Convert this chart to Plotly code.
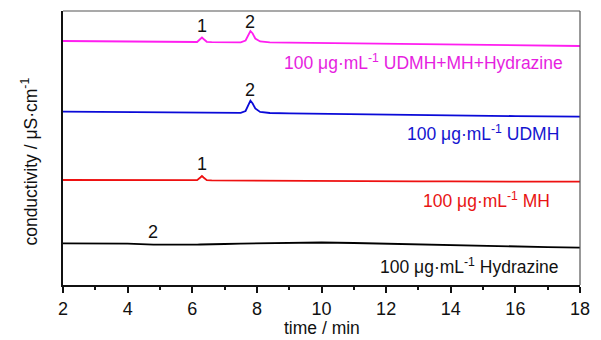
import plotly.graph_objects as go

# time axis (min)
time_min = [2, 3, 4, 4.8, 5, 6, 6.15, 6.25, 6.3, 6.35, 6.45, 6.6, 7, 7.5, 7.65, 7.75, 7.8,
            7.87, 7.95, 8.1, 8.4, 9, 10, 11, 12, 13, 14, 15, 16, 17, 18]

# signals (arbitrary offset units)
mix_sig = [244, 243.8, 243.6, 243.4, 243.3, 243.1, 243.0, 246.0, 247.5, 246.0, 243.2, 242.9,
           242.8, 242.7, 244.5, 251.5, 254.0, 251.5, 246.5, 243.6, 242.7, 242.4, 242.0, 241.5,
           241.0, 240.6, 240.2, 239.9, 239.6, 239.3, 239.0]
udmh_sig = [173.3, 173.2, 173.0, 172.9, 172.8, 172.6, 172.5, 172.5, 172.5, 172.5, 172.4, 172.4,
            172.3, 172.2, 174.0, 181.5, 184.3, 181.5, 176.5, 173.0, 172.0, 171.7, 171.2, 170.7,
            170.2, 169.8, 169.5, 169.2, 168.9, 168.6, 168.3]
mh_sig = [105.0, 105.0, 104.9, 104.9, 104.9, 104.8, 104.8, 107.5, 109.0, 107.5, 104.9, 104.6,
          104.5, 104.5, 104.5, 104.4, 104.4, 104.4, 104.4, 104.3, 104.2, 104.1, 104.0, 103.9,
          103.8, 103.7, 103.6, 103.5, 103.5, 103.4, 103.3]
hyd_sig = [41.7, 41.7, 41.3, 40.4, 40.3, 40.4, 40.4, 40.5, 40.5, 40.5, 40.6, 40.7, 41.0, 41.4,
           41.5, 41.6, 41.7, 41.7, 41.8, 41.9, 42.1, 42.4, 42.5, 42.0, 41.2, 40.4, 39.7, 39.0,
           38.4, 37.9, 37.4]

series_names = ["100 μg·mL<sup>-1</sup> UDMH+MH+Hydrazine", "100 μg·mL<sup>-1</sup> UDMH",
                "100 μg·mL<sup>-1</sup> MH", "100 μg·mL<sup>-1</sup> Hydrazine"]
series_vals = [mix_sig, udmh_sig, mh_sig, hyd_sig]
line_colors = ["#ff1ef0", "#0a0ad8", "#ee1111", "#000000"]
text_colors = ["#e61ee0", "#1414d0", "#e81414", "#111111"]
label_y = [223, 152, 85, 19]
label_x = [17.55, 17.4, 17.12, 17.4]

# peak number labels
peak_t = [6.29, 7.8, 7.8, 6.29, 4.8]
peak_y = [259, 263, 195, 121, 53]
peak_txt = ["1", "2", "2", "1", "2"]

FONT = "Liberation Sans, Arial, sans-serif"

fig = go.Figure()
for vals, col in zip(series_vals, line_colors):
    fig.add_trace(go.Scatter(x=time_min, y=vals, mode="lines",
                             line=dict(color=col, width=1.8), showlegend=False,
                             hoverinfo="skip"))

anns = []
for name, col, lx, ly in zip(series_names, text_colors, label_x, label_y):
    anns.append(dict(x=lx, y=ly, xref="x", yref="y", text=name, showarrow=False,
                     xanchor="right", yanchor="middle",
                     font=dict(family=FONT, size=17.5, color=col)))
for t, y, s in zip(peak_t, peak_y, peak_txt):
    anns.append(dict(x=t, y=y, xref="x", yref="y", text=s, showarrow=False,
                     xanchor="center", yanchor="middle",
                     font=dict(family=FONT, size=18, color="#111111")))
anns.append(dict(x=-0.066, y=0.45, xref="paper", yref="paper",
                 text="conductivity / μS·cm<sup>-1</sup>", textangle=-90, showarrow=False,
                 xanchor="center", yanchor="middle",
                 font=dict(family=FONT, size=17.5, color="#111111")))
anns.append(dict(x=0.5, y=-0.157, xref="paper", yref="paper",
                 text="time / min", showarrow=False, xanchor="center", yanchor="middle",
                 font=dict(family=FONT, size=17.5, color="#111111")))

fig.update_layout(
    width=593, height=332,
    margin=dict(l=55, r=21, t=3, b=55),
    paper_bgcolor="white", plot_bgcolor="white",
    annotations=anns,
    shapes=[
        dict(type="line", xref="paper", yref="paper", x0=0, x1=1, y0=1, y1=1,
             line=dict(color="#555555", width=1.2)),
        dict(type="line", xref="paper", yref="paper", x0=1, x1=1, y0=0, y1=1,
             line=dict(color="#555555", width=1.2)),
    ],
    xaxis=dict(range=[2, 18], tickvals=[2, 4, 6, 8, 10, 12, 14, 16, 18],
               ticks="outside", ticklen=6, tickwidth=1.8, tickcolor="#111111",
               showline=True, linecolor="#111111", linewidth=2,
               showgrid=False, zeroline=False,
               minor=dict(tickvals=[3, 5, 7, 9, 11, 13, 15, 17], ticks="outside",
                          ticklen=3, tickwidth=1.5, tickcolor="#111111"),
               tickfont=dict(family=FONT, size=18, color="#111111")),
    yaxis=dict(range=[0, 274], showticklabels=False, ticks="",
               showline=True, linecolor="#111111", linewidth=2,
               showgrid=False, zeroline=False),
)

fig.write_html("out.html")
